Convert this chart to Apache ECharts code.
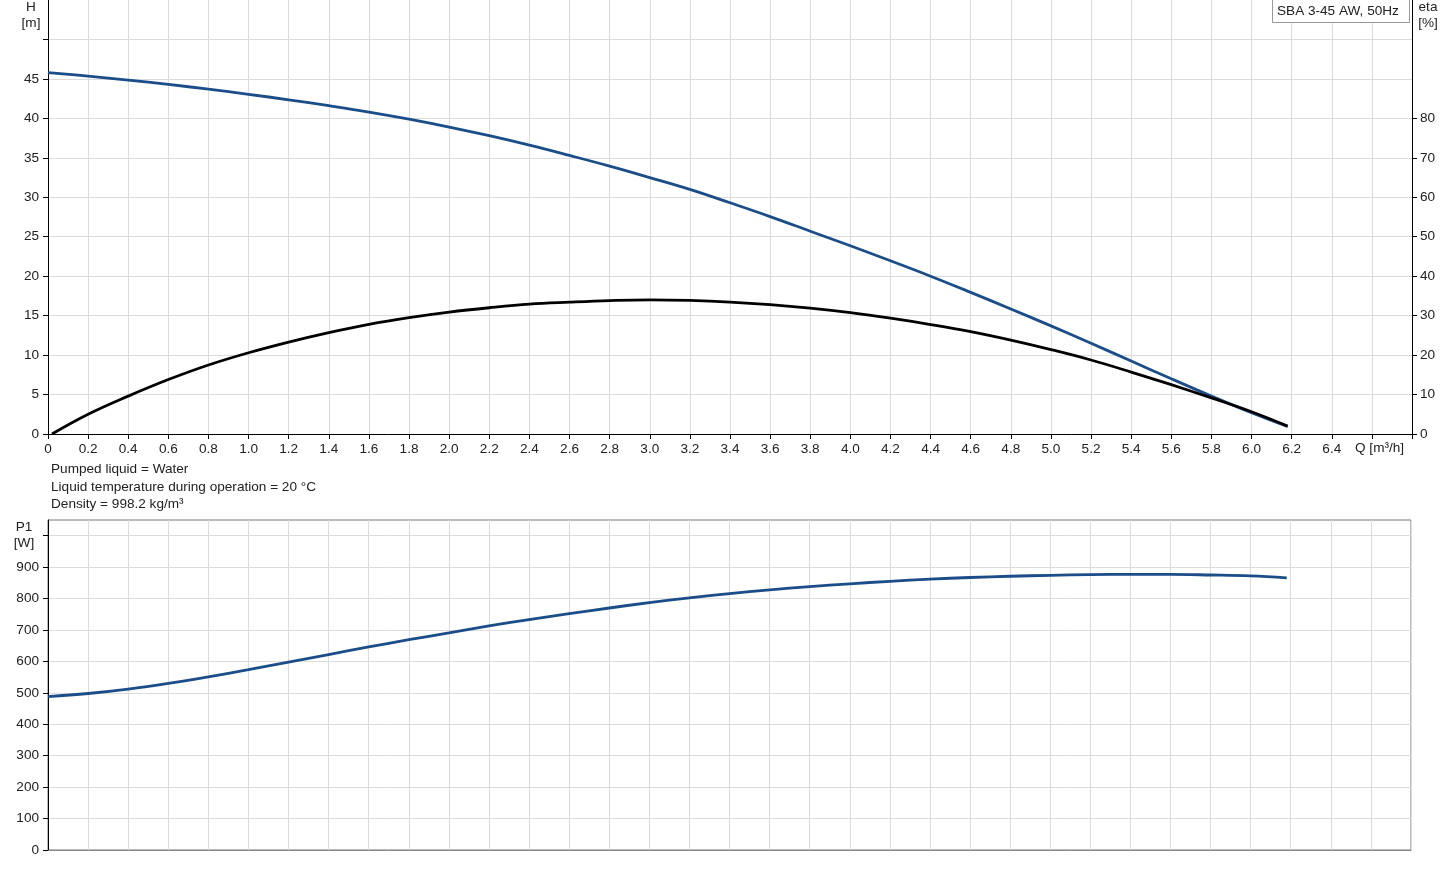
<!DOCTYPE html>
<html>
<head>
<meta charset="utf-8">
<script src="https://cdn.jsdelivr.net/npm/echarts@6/dist/echarts.min.js"></script>
<style>html,body{margin:0;padding:0;background:#fff}#c{width:1445px;height:870px}</style>
</head>
<body>
<div id="c"></div>
<script>
// ---- data ----
const Q = [0,0.2,0.4,0.6,0.8,1.0,1.2,1.4,1.6,1.8,2.0,2.2,2.4,2.6,2.8,3.0,3.2,3.4,3.6,3.8,4.0,4.2,4.4,4.6,4.8,5.0,5.2,5.4,5.6,5.8,6.0,6.18];
const H = [45.8,45.35,44.85,44.3,43.7,43.05,42.35,41.6,40.8,39.9,38.9,37.8,36.6,35.3,33.95,32.5,31.0,29.3,27.55,25.7,23.85,21.95,20.0,17.95,15.85,13.7,11.5,9.25,7.0,4.8,2.7,0.95];
const Qeta = [0.02,0.2,0.4,0.6,0.8,1.0,1.2,1.4,1.6,1.8,2.0,2.2,2.4,2.6,2.8,3.0,3.2,3.4,3.6,3.8,4.0,4.2,4.4,4.6,4.8,5.0,5.2,5.4,5.6,5.8,6.0,6.18];
const ETA = [0,5.0,9.6,13.8,17.5,20.6,23.3,25.7,27.8,29.5,30.9,32.0,32.9,33.4,33.8,34.0,33.85,33.45,32.8,31.9,30.75,29.35,27.75,25.95,23.8,21.4,18.75,15.7,12.5,9.15,5.65,2.0];
const P1 = [488,498,512,530,551,574,598,622,646,669,691,713,733,752,770,787,802,816,828,838,847,855,862,867,871,874,876,877,877,875,872,866];
const hTicks = [0,5,10,15,20,25,30,35,40,45,50];
const hLabels = [0,5,10,15,20,25,30,35,40,45];
const etaTicks = [0,10,20,30,40,50,60,70,80];
const pTicks = [0,100,200,300,400,500,600,700,800,900,1000];
const pLabels = [0,100,200,300,400,500,600,700,800,900];
const qLabels = [0,0.2,0.4,0.6,0.8,1.0,1.2,1.4,1.6,1.8,2.0,2.2,2.4,2.6,2.8,3.0,3.2,3.4,3.6,3.8,4.0,4.2,4.4,4.6,4.8,5.0,5.2,5.4,5.6,5.8,6.0,6.2,6.4];
const title = 'SBA 3-45 AW, 50Hz';
const notes = ['Pumped liquid = Water','Liquid temperature during operation = 20 °C','Density = 998.2 kg/m³'];

const FONT = 'Liberation Sans, Arial, sans-serif';
const FS = 13.6;
const TXT = '#222';
const GRID = '#dcdcdc';
const BLUE = '#1b4d89';

const chart = echarts.init(document.getElementById('c'), null, {renderer:'canvas'});

const option = {
  animation:false,
  backgroundColor:'#fff',
  grid:[
    {left:48, top:0, width:1364, height:434, show:false},
    {left:48, top:520, width:1363, height:330, show:true, borderColor:'#777', borderWidth:1, backgroundColor:'#fff'}
  ],
  xAxis:[
    {type:'value', gridIndex:0, min:0, max:6.8, interval:0.2,
     axisLine:{show:true, onZero:false, lineStyle:{color:'#000', width:1}},
     axisTick:{show:true, length:5, lineStyle:{color:'#000'}},
     axisLabel:{color:TXT, fontFamily:FONT, fontSize:FS, margin:8, customValues:qLabels,
       formatter:function(v){ const r=Math.round(v*10)/10; return r===0?'0':r.toFixed(1);} },
     splitLine:{show:true, lineStyle:{color:GRID, width:1}}},
    {type:'value', gridIndex:1, min:0, max:6.8, interval:0.2,
     axisLine:{show:true, onZero:false, lineStyle:{color:'#888', width:1}},
     axisTick:{show:false}, axisLabel:{show:false},
     splitLine:{show:true, lineStyle:{color:GRID, width:1}}}
  ],
  yAxis:[
    {type:'value', gridIndex:0, min:0, max:55, interval:5, position:'left',
     axisLine:{show:true, onZero:false, lineStyle:{color:'#000'}},
     axisTick:{show:true, length:5, customValues:hTicks, lineStyle:{color:'#000'}},
     axisLabel:{color:TXT, fontFamily:FONT, fontSize:FS, margin:9, customValues:hLabels},
     splitLine:{show:true, lineStyle:{color:GRID, width:1}}},
    {type:'value', gridIndex:0, min:0, max:110, interval:10, position:'right',
     axisLine:{show:true, onZero:false, lineStyle:{color:'#000'}},
     axisTick:{show:true, length:5, customValues:etaTicks, lineStyle:{color:'#000'}},
     axisLabel:{color:TXT, fontFamily:FONT, fontSize:FS, margin:8, customValues:etaTicks},
     splitLine:{show:false}},
    {type:'value', gridIndex:1, min:0, max:1050, interval:100, position:'left',
     axisLine:{show:true, onZero:false, lineStyle:{color:'#000'}},
     axisTick:{show:true, length:5, customValues:pTicks, lineStyle:{color:'#000'}},
     axisLabel:{color:TXT, fontFamily:FONT, fontSize:FS, margin:9, customValues:pLabels},
     splitLine:{show:true, lineStyle:{color:GRID, width:1}}}
  ],
  series:[
    {name:'H', type:'line', xAxisIndex:0, yAxisIndex:0, showSymbol:false, smooth:0.4,
     lineStyle:{color:BLUE, width:2.8}, data:Q.map((q,i)=>[q,H[i]]), z:3},
    {name:'eta', type:'line', xAxisIndex:0, yAxisIndex:1, showSymbol:false, smooth:0.4,
     lineStyle:{color:'#000', width:2.8}, data:Qeta.map((q,i)=>[q,ETA[i]]), z:4},
    {name:'P1', type:'line', xAxisIndex:1, yAxisIndex:2, showSymbol:false, smooth:0.4,
     lineStyle:{color:BLUE, width:2.8}, data:Q.map((q,i)=>[q,P1[i]]), z:3}
  ],
  graphic:[
    {type:'text', x:31, y:7, style:{text:'H', fill:TXT, font:FS+'px '+FONT, textAlign:'center', textVerticalAlign:'middle'}},
    {type:'text', x:31, y:23, style:{text:'[m]', fill:TXT, font:FS+'px '+FONT, textAlign:'center', textVerticalAlign:'middle'}},
    {type:'text', x:1428, y:7, style:{text:'eta', fill:TXT, font:FS+'px '+FONT, textAlign:'center', textVerticalAlign:'middle'}},
    {type:'text', x:1428, y:23, style:{text:'[%]', fill:TXT, font:FS+'px '+FONT, textAlign:'center', textVerticalAlign:'middle'}},
    {type:'text', x:24, y:527, style:{text:'P1', fill:TXT, font:FS+'px '+FONT, textAlign:'center', textVerticalAlign:'middle'}},
    {type:'text', x:24, y:543, style:{text:'[W]', fill:TXT, font:FS+'px '+FONT, textAlign:'center', textVerticalAlign:'middle'}},
    {type:'text', x:1355, y:448, style:{text:'Q [m³/h]', fill:TXT, font:FS+'px '+FONT, textAlign:'left', textVerticalAlign:'middle'}},
    {type:'rect', shape:{x:1272.5, y:-1, width:137, height:23.5}, style:{fill:'#fff', stroke:'#999', lineWidth:1}, z:10},
    {type:'text', x:1277, y:11, style:{text:title, fill:TXT, font:FS+'px '+FONT, textAlign:'left', textVerticalAlign:'middle'}, z:11},
    {type:'text', x:51, y:469, style:{text:notes[0], fill:TXT, font:FS+'px '+FONT, textAlign:'left', textVerticalAlign:'middle'}},
    {type:'text', x:51, y:487, style:{text:notes[1], fill:TXT, font:FS+'px '+FONT, textAlign:'left', textVerticalAlign:'middle'}},
    {type:'text', x:51, y:504, style:{text:notes[2], fill:TXT, font:FS+'px '+FONT, textAlign:'left', textVerticalAlign:'middle'}}
  ]
};
chart.setOption(option);
</script>
</body>
</html>
